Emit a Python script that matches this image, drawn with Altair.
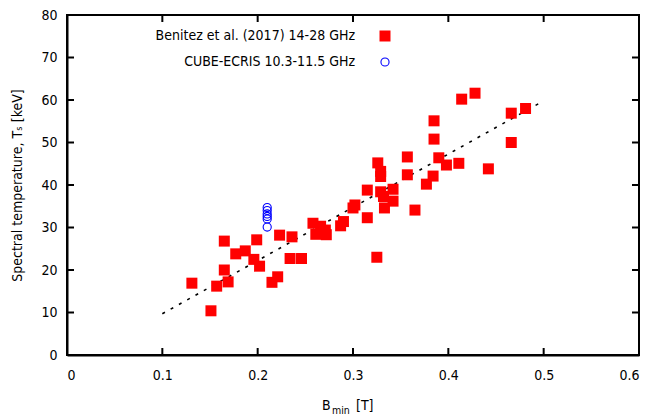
import altair as alt
import pandas as pd

# Benitez et al. (2017) 14-28 GHz
benitez_b = [0.131, 0.151, 0.157, 0.165, 0.165, 0.169, 0.177, 0.187, 0.196, 0.199,
             0.202, 0.215, 0.221, 0.223, 0.234, 0.236, 0.246, 0.258, 0.261, 0.266,
             0.271, 0.272, 0.287, 0.290, 0.300, 0.302, 0.315, 0.315, 0.325, 0.326,
             0.329, 0.329, 0.329, 0.332, 0.333, 0.342, 0.342, 0.357, 0.357, 0.365,
             0.377, 0.384, 0.385, 0.385, 0.390, 0.398, 0.411, 0.414, 0.428, 0.442,
             0.466, 0.466, 0.481]
benitez_t = [16.9, 10.4, 16.2, 20.0, 26.8, 17.2, 23.8, 24.5, 22.5, 27.1,
             20.9, 17.1, 18.4, 28.2, 22.7, 27.8, 22.7, 31.0, 28.4, 30.3,
             29.4, 28.3, 30.4, 31.4, 34.6, 35.3, 38.8, 32.3, 23.0, 45.2,
             43.2, 42.0, 38.4, 37.3, 34.6, 39.0, 36.2, 46.6, 42.4, 34.1,
             40.2, 42.1, 55.1, 50.8, 46.4, 44.7, 45.1, 60.2, 61.6, 43.8,
             56.9, 50.0, 58.0]

# CUBE-ECRIS 10.3-11.5 GHz
cube_b = [0.21, 0.21, 0.21, 0.21, 0.21, 0.21]
cube_t = [34.7, 34.0, 33.2, 32.6, 32.0, 30.1]

# dashed fit line
fit_b = [0.1, 0.5]
fit_t = [9.7, 59.8]

x_ticks = [0.1, 0.2, 0.3, 0.4, 0.5]
y_ticks = [10, 20, 30, 40, 50, 60, 70]
legend_labels = ["Benitez et al. (2017) 14-28 GHz", "CUBE-ECRIS 10.3-11.5 GHz"]
x_title_parts = ["B", "min", "[T]"]

FONT = "DejaVu Sans Condensed, DejaVu Sans"
W, H = 572, 340
TL = 7  # tick length
INK = "#000000"

xs = alt.Scale(domain=[0, 0.6], nice=False, zero=True)
ys = alt.Scale(domain=[0, 80], nice=False)

xaxis = alt.Axis(values=[0, 0.1, 0.2, 0.3, 0.4, 0.5, 0.6], format="~g", tickSize=0,
                 domain=True, domainColor=INK, domainWidth=2,
                 grid=False, labelPadding=13, labelFontSize=14,
                 labelFont=FONT, labelColor="black", title=None)
yaxis = alt.Axis(values=[0, 10, 20, 30, 40, 50, 60, 70, 80], tickSize=0,
                 domain=True, domainColor=INK, domainWidth=2,
                 grid=False, labelPadding=10, labelFontSize=14,
                 labelFont=FONT, labelColor="black",
                 title="Spectral temperature, Tₛ [keV]",
                 titleFont=FONT, titleFontSize=14, titleFontWeight="normal",
                 titleColor="black", titlePadding=16)

bdf = pd.DataFrame({"b": benitez_b, "t": benitez_t})
cdf = pd.DataFrame({"b": cube_b, "t": cube_t})
fdf = pd.DataFrame({"b": fit_b, "t": fit_t})
xtdf = pd.DataFrame({"v": x_ticks})
ytdf = pd.DataFrame({"v": y_ticks})
one = pd.DataFrame({"k": [0]})

base_axes = alt.Chart(bdf).mark_point(opacity=0).encode(
    x=alt.X("b:Q", scale=xs, axis=xaxis),
    y=alt.Y("t:Q", scale=ys, axis=yaxis),
)

fit = alt.Chart(fdf).mark_line(color=INK, strokeWidth=1.6, strokeDash=[3, 6.5]).encode(
    x=alt.X("b:Q", scale=xs), y=alt.Y("t:Q", scale=ys))

squares = alt.Chart(bdf).mark_point(shape="square", filled=True, color="#ff0000",
                                    size=121, opacity=1).encode(
    x=alt.X("b:Q", scale=xs), y=alt.Y("t:Q", scale=ys))

circles = alt.Chart(cdf).mark_point(shape="circle", filled=False, color="#0000ff",
                                    size=66, strokeWidth=1.1, opacity=1).encode(
    x=alt.X("b:Q", scale=xs), y=alt.Y("t:Q", scale=ys))

tick_style = dict(color=INK, strokeWidth=2, opacity=1)
xt_bot = alt.Chart(xtdf).mark_rule(**tick_style).encode(
    x=alt.X("v:Q", scale=xs), y=alt.value(H), y2=alt.value(H - TL))
xt_top = alt.Chart(xtdf).mark_rule(**tick_style).encode(
    x=alt.X("v:Q", scale=xs), y=alt.value(0), y2=alt.value(TL))
yt_left = alt.Chart(ytdf).mark_rule(**tick_style).encode(
    y=alt.Y("v:Q", scale=ys), x=alt.value(0), x2=alt.value(TL))
yt_right = alt.Chart(ytdf).mark_rule(**tick_style).encode(
    y=alt.Y("v:Q", scale=ys), x=alt.value(W - TL), x2=alt.value(W))

txt = dict(font=FONT, color="black", baseline="middle")
leg_t1 = alt.Chart(one).mark_text(align="right", fontSize=14, text=legend_labels[0], **txt).encode(
    x=alt.value(288), y=alt.value(21))
leg_t2 = alt.Chart(one).mark_text(align="right", fontSize=14, text=legend_labels[1], **txt).encode(
    x=alt.value(288), y=alt.value(47))
leg_sq = alt.Chart(one).mark_point(shape="square", filled=True, color="#ff0000",
                                   size=121, opacity=1).encode(
    x=alt.value(318), y=alt.value(21))
leg_ci = alt.Chart(one).mark_point(shape="circle", filled=False, color="#0000ff",
                                   size=66, strokeWidth=1.1, opacity=1).encode(
    x=alt.value(318), y=alt.value(47))

xt1 = alt.Chart(one).mark_text(align="left", fontSize=14, text=x_title_parts[0], **txt).encode(
    x=alt.value(255), y=alt.value(391))
xt2 = alt.Chart(one).mark_text(align="left", fontSize=10.5, text=x_title_parts[1], **txt).encode(
    x=alt.value(265), y=alt.value(396))
xt3 = alt.Chart(one).mark_text(align="left", fontSize=14, text=x_title_parts[2], **txt).encode(
    x=alt.value(289), y=alt.value(391))

chart = alt.layer(base_axes, fit, squares, circles, xt_bot, xt_top, yt_left, yt_right,
                  leg_t1, leg_t2, leg_sq, leg_ci, xt1, xt2, xt3).properties(
    width=W, height=H,
    background="white",
    autosize=alt.AutoSizeParams(type="none"),
    padding={"left": 59, "top": 7, "right": 5, "bottom": 60},
).configure_view(stroke=INK, strokeWidth=2)

chart.save("out.html", embed_options={"renderer": "svg", "actions": False})
